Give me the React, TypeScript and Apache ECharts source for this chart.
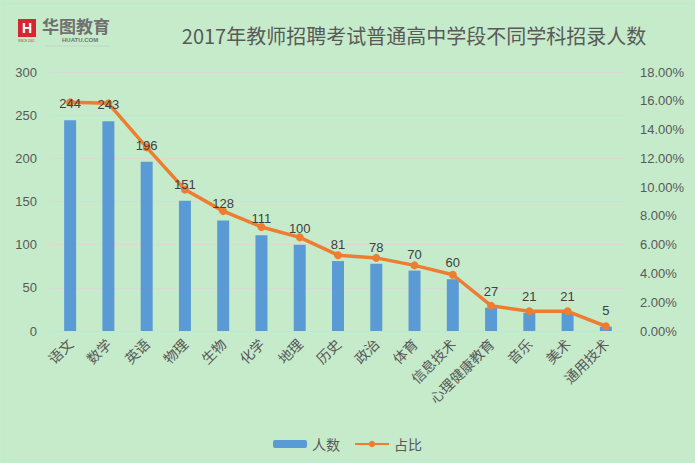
import React, { useEffect, useRef } from "react";
import * as echarts from "echarts";

const categories = ["语文", "数学", "英语", "物理", "生物", "化学", "地理", "历史", "政治", "体育", "信息技术", "心理健康教育", "音乐", "美术", "通用技术"];
const counts = [244, 243, 196, 151, 128, 111, 100, 81, 78, 70, 60, 27, 21, 21, 5];
const ratios = [0.1589, 0.1582, 0.1276, 0.0983, 0.0833, 0.0723, 0.0651, 0.0527, 0.0508, 0.0456, 0.0391, 0.0176, 0.0137, 0.0137, 0.0033];

const title = "2017年教师招聘考试普通高中学段不同学科招录人数";
const textColor = "#595959";

export default function App() {
  const ref = useRef<HTMLDivElement>(null);
  useEffect(() => {
    document.body.style.margin = "0";
    const chart = echarts.init(ref.current!, null, { renderer: "svg" });
    chart.setOption({
      animation: false,
      backgroundColor: "#C6EBCB",
      title: {
        text: title,
        left: 409,
        top: 20,
        textAlign: "center",
        textStyle: { fontSize: 20, fontWeight: "normal", color: textColor, fontFamily: "Noto Sans CJK SC" },
      },
      graphic: [
        { type: "rect", shape: { x: 3.5, y: 3.5, width: 688, height: 456 }, style: { fill: "none", stroke: "#D9D9D9", lineWidth: 1 } },
        { type: "rect", shape: { x: 18, y: 19, width: 18, height: 18 }, style: { fill: "#D7262D" } },
        { type: "text", x: 27, y: 28, style: { text: "H", fill: "#fff", font: "bold 14px Arial", align: "center", verticalAlign: "middle" } },
        { type: "text", x: 18, y: 39, style: { text: "SINCE 2001", fill: "#D7262D", font: "3px Arial" } },
        { type: "text", x: 42, y: 17, style: { text: "华图教育", fill: "#707070", font: "bold 17px 'Noto Sans CJK SC'", verticalAlign: "top" } },
        { type: "text", x: 62, y: 37, style: { text: "HUATU.COM", fill: "#707070", font: "bold 6px Arial", verticalAlign: "top" } },
        { type: "line", shape: { x1: 45, y1: 46, x2: 110, y2: 46 }, style: { stroke: "#BFBFBF", lineWidth: 0.5 } },
      ],
      legend: {
        bottom: 7,
        left: "center",
        itemGap: 14,
        textStyle: { color: textColor, fontSize: 14, fontFamily: "Noto Sans CJK SC" },
        data: [
          { name: "人数", itemStyle: { color: "#5B9BD5" } },
          { name: "占比" },
        ],
        itemWidth: 34,
        itemHeight: 8,
      },
      grid: { left: 51, right: 70, top: 72, bottom: 132 },
      xAxis: {
        type: "category",
        data: categories,
        axisLine: { lineStyle: { color: "#D9D9D9" } },
        axisTick: { show: false },
        axisLabel: { rotate: 45, color: textColor, fontSize: 14, interval: 0, margin: 10, fontFamily: "Noto Sans CJK SC" },
      },
      yAxis: [
        {
          type: "value",
          min: 0,
          max: 300,
          interval: 50,
          axisLine: { show: false },
          axisTick: { show: false },
          axisLabel: { color: textColor, fontSize: 13, margin: 14 },
          splitLine: { lineStyle: { color: "#D9D9D9" } },
        },
        {
          type: "value",
          min: 0,
          max: 0.18,
          interval: 0.02,
          axisLine: { show: false },
          axisTick: { show: false },
          splitLine: { show: false },
          axisLabel: { color: textColor, fontSize: 13, margin: 15, formatter: (v: number) => (v * 100).toFixed(2) + "%" },
        },
      ],
      series: [
        {
          name: "人数",
          type: "bar",
          data: counts,
          barWidth: 12,
          z: 2,
          itemStyle: { color: "#5B9BD5" },
        },
        {
          name: "占比",
          type: "line",
          yAxisIndex: 1,
          data: ratios,
          z: 3,
          symbol: "circle",
          symbolSize: 8,
          lineStyle: { color: "#ED7D31", width: 3.5 },
          itemStyle: { color: "#ED7D31" },
        },
        {
          name: "人数标签",
          type: "bar",
          data: counts,
          barWidth: 12,
          barGap: "-100%",
          z: 5,
          silent: true,
          itemStyle: { color: "rgba(0,0,0,0)" },
          label: { show: true, position: "top", distance: 10, color: "#404040", fontSize: 13 },
        },
      ],
    });
    return () => chart.dispose();
  }, []);
  return <div ref={ref} style={{ width: 695, height: 463 }} />;
}
